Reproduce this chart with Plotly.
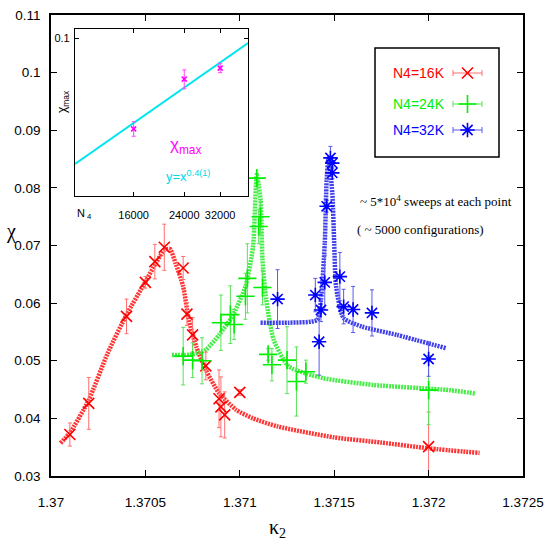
import plotly.graph_objects as go

# ---- main plot data: chi vs kappa_2 for three volumes ----
red_k2 = [1.3701, 1.3702, 1.3704, 1.3705, 1.37055, 1.3706, 1.3707, 1.37072,
          1.37075, 1.37082, 1.37089, 1.3709, 1.37092, 1.371, 1.372]
red_chi = [0.0372, 0.0426, 0.0577, 0.0636, 0.0672, 0.0697, 0.0661, 0.0581,
           0.0545, 0.0491, 0.0434, 0.0420, 0.0406, 0.0445, 0.0351]
red_err = [0.002, 0.0045, 0.003, 0.001, 0.003, 0.004, 0.002, 0.002,
           0.003, 0.0024, 0.005, 0.0052, 0.004, 0.0005, 0.006]

green_k2 = [1.3707, 1.37075, 1.3708, 1.3709, 1.37095, 1.37097, 1.37103, 1.37104,
            1.37109, 1.37111, 1.3711, 1.37112, 1.37115, 1.37117, 1.37125,
            1.3713, 1.37135, 1.372]
green_chi = [0.0508, 0.0501, 0.0500, 0.0566, 0.0580, 0.0563, 0.0612, 0.0643,
             0.0817, 0.0750, 0.0733, 0.0627, 0.0511, 0.0493, 0.0501,
             0.0464, 0.0481, 0.0449]
green_err = [0.005, 0.003, 0.004, 0.0048, 0.005, 0.0026, 0.004, 0.006,
             0.0008, 0.003, 0.003, 0.003, 0.001, 0.0028, 0.0058,
             0.006, 0.002, 0.006]

blue_k2 = [1.3712, 1.3714, 1.37142, 1.37143, 1.37145, 1.37146, 1.37148, 1.37149,
           1.37149, 1.37153, 1.37155, 1.3716, 1.3717, 1.372]
blue_chi = [0.0607, 0.0614, 0.0533, 0.0588, 0.0636, 0.0768, 0.0852, 0.0843,
            0.0826, 0.0646, 0.0594, 0.0589, 0.0583, 0.0503]
blue_err = [0.0051, 0.0029, 0.0058, 0.002, 0.0047, 0.001, 0.002, 0.001,
            0.001, 0.0042, 0.003, 0.004, 0.004, 0.003]

# reweighted curves
red_fit_k2 = [1.37005, 1.3701, 1.3702, 1.3703, 1.3704, 1.3705, 1.37056, 1.3706,
              1.37063, 1.37066, 1.3707, 1.37073, 1.37077, 1.37082, 1.37089,
              1.37098, 1.37107, 1.3712, 1.3715, 1.37175, 1.372, 1.37227]
red_fit_chi = [0.0357, 0.0375, 0.0432, 0.0513, 0.0580, 0.0637, 0.0672, 0.0692,
               0.0694, 0.0669, 0.0629, 0.0571, 0.0524, 0.0484, 0.0444,
               0.0415, 0.0400, 0.0386, 0.0367, 0.0358, 0.0348, 0.0340]

green_fit_k2 = [1.37064, 1.37075, 1.37082, 1.37089, 1.37096, 1.37103, 1.37107,
                1.37109, 1.37111, 1.37112, 1.37114, 1.37118, 1.37126, 1.37144,
                1.37171, 1.37211, 1.37225]
green_fit_chi = [0.0510, 0.0511, 0.0519, 0.0545, 0.0577, 0.0629, 0.0698,
                 0.0822, 0.0779, 0.0675, 0.0606, 0.0536, 0.0490, 0.0470,
                 0.0458, 0.0449, 0.0443]

blue_fit_k2 = [1.37111, 1.37126, 1.37141, 1.37143, 1.37145, 1.37146, 1.37147,
               1.37149, 1.3715, 1.37151, 1.37155, 1.37165, 1.37183, 1.37209]
blue_fit_chi = [0.0566, 0.0566, 0.0571, 0.0606, 0.0704, 0.0814, 0.0852,
                0.0791, 0.0704, 0.0629, 0.0574, 0.0559, 0.0545, 0.0522]

x_ticks = [1.37, 1.3705, 1.371, 1.3715, 1.372, 1.3725]
x_ticktext = ["1.37", "1.3705", "1.371", "1.3715", "1.372", "1.3725"]
y_ticks = [0.03, 0.04, 0.05, 0.06, 0.07, 0.08, 0.09, 0.1, 0.11]
y_ticktext = ["0.03", "0.04", "0.05", "0.06", "0.07", "0.08", "0.09", "0.1", "0.11"]

# ---- inset data: chi_max vs N4 (log-log) ----
inset_n4 = [16000, 24000, 32000]
inset_chimax = [0.0659, 0.0828, 0.0871]
inset_err = [0.0022, 0.0036, 0.0018]
inset_fit_n4 = [10000, 40000]
inset_fit_chi = [0.0561, 0.0977]

series_names = ["N4=16K", "N4=24K", "N4=32K"]

RED, GREEN, BLUE = "#ff0000", "#00ee00", "#0000ff"
SANS = "Liberation Sans, Arial, sans-serif"
SERIF = "Liberation Serif, DejaVu Serif, serif"

# plot-area pixel frame, used to place legend/annotation items
L, R, T, B = 51, 523, 15, 476


def fx(px):
    return (px - L) / (R - L)


def fy(py):
    return (B - py) / (B - T)


fig = go.Figure()

# dotted fit curves
fits = [(red_fit_k2, red_fit_chi, "rgba(255,30,30,0.9)"),
        (green_fit_k2, green_fit_chi, "rgba(50,235,50,0.9)"),
        (blue_fit_k2, blue_fit_chi, "rgba(30,30,230,0.85)")]
for xs, ys, col in fits:
    fig.add_trace(go.Scatter(x=xs, y=ys, mode="lines", showlegend=False,
                             line=dict(color=col, width=4.5, dash="2px,1px",
                                       shape="spline", smoothing=0.6)))

# data points with error bars
points = [(red_k2, red_chi, red_err, RED, "rgb(255,110,110)", "x-thin", 11),
          (green_k2, green_chi, green_err, GREEN, "rgb(90,225,90)", "cross-thin", 13),
          (blue_k2, blue_chi, blue_err, BLUE, "rgb(90,90,235)", "asterisk-open", 12)]
for xs, ys, es, col, ecol, sym, size in points:
    fig.add_trace(go.Scatter(
        x=xs, y=ys, mode="markers", showlegend=False,
        marker=dict(symbol=sym, size=size, color=col, line=dict(color=col, width=1.6)),
        error_y=dict(type="data", array=es, color=ecol, thickness=1, width=2)))

# inset
fig.add_trace(go.Scatter(x=inset_fit_n4, y=inset_fit_chi, xaxis="x2", yaxis="y2",
                         mode="lines", showlegend=False,
                         line=dict(color="#00e5ee", width=2)))
fig.add_trace(go.Scatter(x=inset_n4, y=inset_chimax, xaxis="x2", yaxis="y2",
                         mode="markers", showlegend=False,
                         marker=dict(symbol="x-thin", size=5, color="#ff00ff",
                                     line=dict(color="#ff00ff", width=1.5)),
                         error_y=dict(type="data", array=inset_err, color="#ff44ff",
                                      thickness=1, width=2)))

# legend keys (drawn on an overlay axis spanning the plot area)
key_y = [73, 104, 130]
key_cols = [(RED, "rgb(255,110,110)", "x-thin", 11),
            (GREEN, "rgb(90,225,90)", "cross-thin", 13),
            (BLUE, "rgb(90,90,235)", "asterisk-open", 12)]
for py, (col, ecol, sym, size) in zip(key_y, key_cols):
    fig.add_trace(go.Scatter(
        x=[fx(467.5)], y=[fy(py)], xaxis="x3", yaxis="y3", mode="markers", showlegend=False,
        marker=dict(symbol=sym, size=size, color=col, line=dict(color=col, width=1.6)),
        error_x=dict(type="constant", value=fx(482) - fx(467.5), color=ecol, thickness=1, width=3)))
fig.add_trace(go.Scatter(
    x=[fx(224)], y=[fy(145)], xaxis="x3", yaxis="y3", mode="markers", showlegend=False,
    marker=dict(symbol="x-thin", size=11, color="#ff00ff", line=dict(color="#ff00ff", width=1.5)),
    error_x=dict(type="constant", value=fx(233) - fx(224), color="#ff00ff", thickness=1, width=4)))
fig.add_trace(go.Scatter(
    x=[fx(215), fx(233)], y=[fy(177), fy(177)], xaxis="x3", yaxis="y3", mode="lines",
    showlegend=False, line=dict(color="#00e5ee", width=2)))

annotations = []
for name, py, col in zip(series_names, key_y, [RED, GREEN, BLUE]):
    annotations.append(dict(text=name, x=fx(447), y=fy(py), xref="paper", yref="paper",
                            xanchor="right", yanchor="middle", showarrow=False,
                            font=dict(family=SANS, size=14, color=col)))
annotations += [
    dict(text="χ<sub>max</sub>", x=fx(203), y=fy(146), xref="paper", yref="paper",
         xanchor="right", yanchor="middle", showarrow=False,
         font=dict(family=SANS, size=17, color="#ff00ff")),
    dict(text="y=x<sup>0.4(1)</sup>", x=fx(212), y=fy(176), xref="paper", yref="paper",
         xanchor="right", yanchor="middle", showarrow=False,
         font=dict(family=SANS, size=13, color="#00d8e8")),
    dict(text="χ<sub>max</sub>", x=fx(63), y=fy(102), xref="paper", yref="paper",
         textangle=-90, xanchor="center", yanchor="middle", showarrow=False,
         font=dict(family=SANS, size=12, color="black")),
    dict(text="N<sub> 4</sub>", x=fx(84), y=fy(214), xref="paper", yref="paper",
         xanchor="center", yanchor="middle", showarrow=False,
         font=dict(family=SANS, size=11, color="black")),
    dict(text="~ 5*10<sup>4</sup> sweeps at each point", x=fx(436), y=fy(201),
         xref="paper", yref="paper", xanchor="center", yanchor="middle", showarrow=False,
         font=dict(family=SERIF, size=13, color="black")),
    dict(text="( ~ 5000 configurations)", x=fx(420), y=fy(229), xref="paper", yref="paper",
         xanchor="center", yanchor="middle", showarrow=False,
         font=dict(family=SERIF, size=13, color="black")),
    dict(text="χ", x=fx(11), y=fy(231), xref="paper", yref="paper",
         xanchor="center", yanchor="middle", showarrow=False,
         font=dict(family=SERIF, size=20, color="black")),
    dict(text="κ<sub>2</sub>", x=fx(277), y=fy(528), xref="paper", yref="paper",
         xanchor="center", yanchor="middle", showarrow=False,
         font=dict(family=SERIF, size=20, color="black")),
]

shapes = [
    dict(type="rect", xref="paper", yref="paper", x0=fx(375), x1=fx(499),
         y0=fy(157), y1=fy(48), line=dict(color="black", width=1.5)),
]

axis_common = dict(showgrid=False, zeroline=False, showline=True, linecolor="black",
                   ticks="inside", tickcolor="black", mirror="allticks", automargin=False)

fig.update_layout(
    width=545, height=545, autosize=False,
    margin=dict(l=L, r=545 - R, t=T, b=545 - B, pad=0, autoexpand=False),
    plot_bgcolor="white", paper_bgcolor="white",
    showlegend=False,
    xaxis=dict(range=[1.37, 1.3725], tickvals=x_ticks, ticktext=x_ticktext,
               linewidth=1.5, ticklen=6, tickwidth=1.2, ticklabelstandoff=13,
               tickfont=dict(family=SANS, size=13.5, color="black"), **axis_common),
    yaxis=dict(range=[0.03, 0.11], tickvals=y_ticks, ticktext=y_ticktext,
               linewidth=1.5, ticklen=6, tickwidth=1.2, ticklabelstandoff=6,
               tickfont=dict(family=SANS, size=13.5, color="black"), **axis_common),
    xaxis2=dict(type="log", range=[4.0, 4.602], domain=[fx(75), fx(248)], anchor="y2",
                tickvals=inset_n4, ticktext=[str(v) for v in inset_n4], tickangle=0,
                linewidth=1.2, ticklen=4, tickwidth=1, ticklabelstandoff=9,
                tickfont=dict(family=SANS, size=11, color="black"), **axis_common),
    yaxis2=dict(type="log", range=[-1.315, -0.982], domain=[fy(196), fy(29)], anchor="x2",
                tickvals=[0.1], ticktext=["0.1"],
                linewidth=1.2, ticklen=4, tickwidth=1, ticklabelstandoff=2,
                tickfont=dict(family=SANS, size=11, color="black"), **axis_common),
    xaxis3=dict(range=[0, 1], domain=[0, 1], anchor="y3", overlaying="x", visible=False),
    yaxis3=dict(range=[0, 1], domain=[0, 1], anchor="x3", overlaying="y", visible=False),
    annotations=annotations,
    shapes=shapes,
)

fig.write_html("out.html", config={"displayModeBar": False},
               post_script="document.body.style.margin='0';document.body.style.overflow='hidden';")
